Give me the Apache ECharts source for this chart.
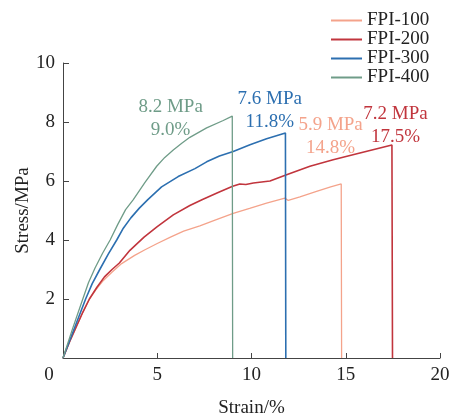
<!DOCTYPE html>
<html>
<head>
<meta charset="utf-8">
<script src="https://cdn.jsdelivr.net/npm/echarts@6/dist/echarts.min.js"></script>
<style>html,body{margin:0;padding:0;background:#fff;}#c{width:452px;height:416px;}</style>
</head>
<body>
<div id="c"></div>
<script>
const seriesNames = ['FPI-100', 'FPI-200', 'FPI-300', 'FPI-400'];
const colors = ['#F4A38B', '#C1353D', '#2C6FB0', '#6F9C88'];

const fpi100 = [[0,0],[0.35,0.55],[0.7,1.05],[1.05,1.55],[1.4,2.0],[1.75,2.32],[2.1,2.6],[2.58,2.9],[3.11,3.2],[3.8,3.48],[4.35,3.67],[5.0,3.88],[5.7,4.1],[6.4,4.3],[7.26,4.48],[8.1,4.68],[9.03,4.9],[9.9,5.07],[10.8,5.25],[11.77,5.42],[11.95,5.34],[12.57,5.46],[13.45,5.65],[14.2,5.8],[14.76,5.9],[14.78,0]];
const fpi200 = [[0,0],[0.35,0.55],[0.7,1.05],[1.05,1.55],[1.4,2.0],[1.8,2.4],[2.2,2.75],[2.6,3.0],[2.99,3.22],[3.55,3.65],[4.3,4.1],[5.0,4.45],[5.85,4.85],[6.73,5.17],[7.4,5.37],[8.2,5.6],[9.0,5.82],[9.38,5.9],[9.7,5.88],[10.1,5.93],[10.98,6.0],[11.86,6.21],[13.1,6.5],[14.33,6.72],[15.75,6.95],[17.45,7.22],[17.48,0]];
const fpi300 = [[0,0],[0.6,1.0],[1.2,2.0],[1.55,2.52],[1.95,3.0],[2.4,3.52],[2.85,4.0],[3.2,4.4],[3.6,4.75],[4.05,5.08],[4.5,5.37],[5.23,5.8],[6.11,6.15],[7.0,6.42],[7.62,6.65],[8.3,6.85],[9.03,7.0],[9.92,7.23],[10.8,7.43],[11.8,7.63],[11.82,0]];
const fpi400 = [[0,0],[0.5,0.98],[1.05,2.0],[1.35,2.55],[1.7,3.05],[2.1,3.55],[2.5,4.0],[2.9,4.52],[3.32,5.03],[3.73,5.37],[4.35,5.95],[4.97,6.5],[5.4,6.8],[5.85,7.05],[6.3,7.28],[6.73,7.48],[7.62,7.8],[8.5,8.05],[8.98,8.2],[9.0,0]];
const seriesData = [fpi100, fpi200, fpi300, fpi400];

const peaks = [[14.78, 5.9], [17.48, 7.2], [11.82, 7.6], [9.0, 8.2]];
const peakLabels = ['5.9 MPa\n14.8%', '7.2 MPa\n17.5%', '7.6 MPa\n11.8%', '8.2 MPa\n9.0%'];
const labelOffsets = [[-11, -47], [3, -20], [-16, -23], [-62, 2]];

const xTicks = [0, 5, 10, 15, 20];
const yTicks = [0, 2, 4, 6, 8, 10];

const FONT = '"Liberation Serif", "Times New Roman", serif';
const chart = echarts.init(document.getElementById('c'));

chart.setOption({
  animation: false,
  backgroundColor: '#fff',
  grid: { left: 63, top: 63, width: 377, height: 295, containLabel: false, outerBoundsMode: 'none' },
  legend: {
    orient: 'vertical', left: 326, top: 6,
    icon: 'rect', itemWidth: 31, itemHeight: 2, itemGap: 0,
    data: seriesNames,
    textStyle: { fontFamily: FONT, fontSize: 19, color: '#222', lineHeight: 18.3 }
  },
  xAxis: {
    type: 'value', min: xTicks[0], max: xTicks[xTicks.length - 1], interval: 5,
    name: 'Strain/%', nameLocation: 'middle', nameGap: 41, nameMoveOverlap: false,
    nameTextStyle: { fontFamily: FONT, fontSize: 19, color: '#222' },
    axisLine: { show: true, lineStyle: { color: '#444', width: 1 } },
    axisTick: { show: true, inside: true, length: 5, lineStyle: { color: '#444' } },
    splitLine: { show: false },
    axisLabel: {
      fontFamily: FONT, fontSize: 19, color: '#222', margin: 8,
      formatter: function (v) { return v === 0 ? '{z|0}' : String(v); },
      rich: { z: { fontFamily: FONT, fontSize: 19, color: '#222', padding: [0, 28, 0, 0] } }
    }
  },
  yAxis: {
    type: 'value', min: yTicks[0], max: yTicks[yTicks.length - 1], interval: 2,
    name: 'Stress/MPa', nameLocation: 'middle', nameGap: 30, nameMoveOverlap: false,
    nameTextStyle: { fontFamily: FONT, fontSize: 19, color: '#222' },
    axisLine: { show: true, lineStyle: { color: '#444', width: 1 } },
    axisTick: { show: true, inside: true, length: 6, lineStyle: { color: '#444' } },
    splitLine: { show: false },
    axisLabel: { fontFamily: FONT, fontSize: 19, color: '#222', margin: 8, showMinLabel: false }
  },
  series: seriesNames.map(function (name, i) {
    return {
      name: name, type: 'line', data: seriesData[i],
      showSymbol: false, symbol: 'none',
      smooth: false,
      lineStyle: { color: colors[i], width: (i === 1 || i === 2) ? 1.6 : 1.3 },
      itemStyle: { color: colors[i] },
      markPoint: {
        symbol: 'circle', symbolSize: 1,
        itemStyle: { color: 'rgba(0,0,0,0)' },
        label: {
          show: true, position: 'inside', offset: labelOffsets[i],
          formatter: peakLabels[i],
          fontFamily: FONT, fontSize: 19, lineHeight: 23, color: colors[i], align: 'center'
        },
        data: [{ coord: peaks[i] }]
      }
    };
  })
});
</script>
</body>
</html>
